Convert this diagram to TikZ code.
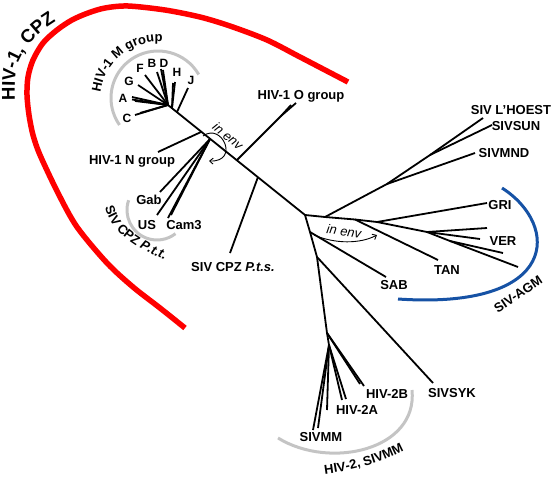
\documentclass[tikz,border=0pt]{standalone}
\usepackage{fontspec}
\setmainfont{Liberation Sans}
\usetikzlibrary{arrows.meta,decorations.text}

\definecolor{cpzred}{RGB}{255,0,0}
\definecolor{agmblue}{RGB}{22,82,165}
\definecolor{cladegray}{RGB}{196,196,196}

\newcommand{\lblfont}{\fontsize{13}{15}\selectfont\bfseries}
\newcommand{\bigfont}{\fontsize{18.5}{20}\selectfont\bfseries}
\newcommand{\mgrpfont}{\fontsize{13}{15}\selectfont\bfseries}

\begin{document}
\begin{tikzpicture}[x=1pt,y=-1pt,
    branch/.style={line width=1.8pt},
    lbl/.style={font=\lblfont, inner sep=0pt, text height=9.3pt, text depth=0pt},
    tiplbl/.style={font=\fontsize{12}{14}\selectfont\bfseries, inner sep=0pt, text height=8.6pt, text depth=0pt},
    envlbl/.style={font=\fontsize{13}{15}\selectfont\itshape, inner sep=0pt},
    clade/.style={cladegray, line width=3pt},
    envarrow/.style={line width=0.9pt, -{Straight Barb[length=3.5pt,width=6pt]}}]

    \useasboundingbox (0,0) rectangle (552,479);

    % --- Junctions of the tree ---
    \coordinate (M_root) at (168,105);
    \coordinate (H_jct) at (172,108);
    \coordinate (J_jct) at (177,112);
    \coordinate (N_jct) at (201,132);
    \coordinate (Ptt_jct) at (210,139);
    \coordinate (O_jct) at (237,160);
    \coordinate (O_split) at (281,116);
    \coordinate (Pts_jct) at (258,177);
    \coordinate (Root) at (305,215);
    \coordinate (L_jct) at (325,217);
    \coordinate (Mnd_jct) at (387,184);
    \coordinate (Sun_jct) at (430,155);
    \coordinate (Tan_jct) at (355,219.5);
    \coordinate (Gri_jct) at (377,222);
    \coordinate (Ver_jct) at (427,232);
    \coordinate (Ver_sub) at (450,241);
    \coordinate (Sab_jct) at (310,232);
    \coordinate (Syk_jct) at (317,257);
    \coordinate (H2_jct) at (327,333);
    \coordinate (H2_sub) at (329,345);

    % --- Tips ---
    % HIV-1 M subtypes
    \coordinate (C_end1) at (135,115);
    \coordinate (C_end2) at (140,113);
    \coordinate (A_end1) at (132,97);
    \coordinate (A_end2) at (132,99.5);
    \coordinate (A_end3) at (135,101);
    \coordinate (G_end) at (138,85);
    \coordinate (F_end) at (145,75);
    \coordinate (B_end) at (157,72);
    \coordinate (D_end1) at (161,69);
    \coordinate (D_end2) at (163,70);
    \coordinate (H_end1) at (175,82);
    \coordinate (H_end2) at (173,83);
    \coordinate (J_end) at (188,88);
    % HIV-1 N, O and SIV CPZ
    \coordinate (N_end) at (158,152);
    \coordinate (O_end1) at (291,105);
    \coordinate (O_end2) at (296,103);
    \coordinate (Gab_end) at (160,192);
    \coordinate (US_end) at (157,215);
    \coordinate (Cam_end1) at (168,218);
    \coordinate (Cam_end2) at (171,215);
    \coordinate (Pts_end) at (230,253);
    % other SIVs
    \coordinate (Hoest_end) at (483,118);
    \coordinate (Sun_end) at (492,125);
    \coordinate (Mnd_end) at (475,153);
    \coordinate (Gri_end) at (487,203);
    \coordinate (Ver_end1) at (487,228);
    \coordinate (Ver_end2) at (480,239);
    \coordinate (Ver_end3) at (503,253);
    \coordinate (Ver_end4) at (518,267);
    \coordinate (Tan_end) at (438,260);
    \coordinate (Sab_end) at (386,277);
    \coordinate (Syk_end) at (433,383);
    % HIV-2 and SIVMM
    \coordinate (H2B_end1) at (360,384);
    \coordinate (H2B_end2) at (364,386);
    \coordinate (H2A_end1) at (342,400);
    \coordinate (H2A_end2) at (346,399);
    \coordinate (MM_end1) at (327,410);
    \coordinate (MM_end2) at (318,428);
    \coordinate (MM_end3) at (313,430);

    % --- Group outlines ---
    % HIV-1, CPZ (red)
    \draw[cpzred, line width=5.5pt] plot[smooth] coordinates {(348,82) (300,57) (267,40) (230,26) (200,17) (165,10) (128,6) (105,8) (88,13) (72,20) (57,30) (43,43) (33,60) (28,77) (27,95) (29,115) (33,135) (40,155) (58,193) (77,227) (107,263) (133,287) (160,308) (185,328)};
    % SIV-AGM (blue)
    \draw[agmblue, line width=3pt] (502,188) .. controls (560,225) and (560,310) .. (398,299);
    % grey clades
    \draw[clade] (158,98) ++(-30:47) arc[start angle=-30, end angle=-215, radius=47];
    \draw[clade] (157,210) ++(199:30) arc[start angle=199, end angle=52, radius=30];
    \draw[clade] (412,390) .. controls (418,450) and (330,470) .. (278,438);

    % --- Backbone ---
    \draw[branch] (M_root) -- (Root);
    \draw[branch] (Root) -- (L_jct) -- (Tan_jct) -- (Gri_jct) -- (Ver_jct) -- (Ver_sub) -- (Ver_end4);
    \draw[branch] (Root) -- (Sab_jct) -- (Syk_jct) -- (H2_jct) -- (H2_sub);

    % --- HIV-1 M group ---
    \draw[branch] (M_root) -- (C_end1);
    \draw[branch] (M_root) -- (C_end2);
    \draw[branch] (M_root) -- (A_end1);
    \draw[branch] (M_root) -- (A_end2);
    \draw[branch] (M_root) -- (A_end3);
    \draw[branch] (M_root) -- (G_end);
    \draw[branch] (M_root) -- (F_end);
    \draw[branch] (M_root) -- (B_end);
    \draw[branch] (M_root) -- (D_end1);
    \draw[branch] (M_root) -- (D_end2);
    \draw[branch] (H_jct) -- (H_end1);
    \draw[branch] (H_jct) -- (H_end2);
    \draw[branch] (J_jct) -- (J_end);

    % --- HIV-1 N, O and SIV CPZ ---
    \draw[branch] (N_jct) -- (N_end);
    \draw[branch] (O_jct) -- (O_split) -- (O_end1);
    \draw[branch] (O_split) -- (O_end2);
    \draw[branch] (Ptt_jct) -- (Gab_end);
    \draw[branch] (Ptt_jct) -- (US_end);
    \draw[branch] (Ptt_jct) -- (Cam_end1);
    \draw[branch] (Ptt_jct) -- (Cam_end2);
    \draw[branch] (Pts_jct) -- (Pts_end);

    % --- L'Hoest, AGM, SAB, SYK ---
    \draw[branch] (L_jct) -- (Mnd_jct) -- (Mnd_end);
    \draw[branch] (Mnd_jct) -- (Sun_jct) -- (Hoest_end);
    \draw[branch] (Sun_jct) -- (Sun_end);
    \draw[branch] (Tan_jct) -- (Tan_end);
    \draw[branch] (Gri_jct) -- (Gri_end);
    \draw[branch] (Ver_jct) -- (Ver_end1);
    \draw[branch] (Ver_jct) -- (Ver_end2);
    \draw[branch] (Ver_sub) -- (Ver_end3);
    \draw[branch] (Sab_jct) -- (Sab_end);
    \draw[branch] (Syk_jct) -- (Syk_end);

    % --- HIV-2, SIVMM ---
    \draw[branch] (H2_jct) -- (H2B_end1);
    \draw[branch] (H2_jct) -- (H2B_end2);
    \draw[branch] (H2_sub) -- (H2A_end1);
    \draw[branch] (H2_sub) -- (H2A_end2);
    \draw[branch] (H2_sub) -- (MM_end1);
    \draw[branch] (H2_sub) -- (MM_end2);
    \draw[branch] (H2_sub) -- (MM_end3);

    % --- Recombination arrows (in env) ---
    \draw[envarrow] (203,136) .. controls (222,122) and (240,162) .. (209,161);
    \draw[envarrow] (314,235) .. controls (335,244) and (360,244) .. (377,235);
    \node[envlbl, rotate=-40] (env_left) at (228,136) {in env};
    \node[envlbl, rotate=-8] (env_right) at (344,231) {in env};

    % --- Labels along the outlines ---
    \path[decorate, decoration={text along path, text={|\bigfont|HIV-1, CPZ}, text align=left}]
        plot[smooth] coordinates {(15,100) (15,82) (17,66) (23,53) (32,41) (45,29) (62,18) (85,7) (110,1)};
    \path[decorate, decoration={text along path, text={|\mgrpfont|HIV-1 M group}, text align=center}]
        (158,100) ++(-180:58) arc[start angle=-180, end angle=-78, radius=58];
    \path[decorate, decoration={text along path, text={|\lblfont|SIV CPZ |\lblfont\itshape|P.t.t.}, text align=center}]
        (104,202) .. controls (109,234) and (139,250) .. (170,262);
    \path[decorate, decoration={text along path, text={|\lblfont|HIV-2, SIVMM}, text align=center}]
        (316,475) .. controls (350,472) and (385,462) .. (412,446);
    \node[lbl, rotate=34] (agm_lbl) at (518,294) {SIV-AGM};

    % --- Labels for M subtypes ---
    \node[tiplbl] (C_lbl) at (127,118) {C};
    \node[tiplbl] (A_lbl) at (123,98) {A};
    \node[tiplbl] (G_lbl) at (129,81) {G};
    \node[tiplbl] (F_lbl) at (140,68) {F};
    \node[tiplbl] (B_lbl) at (152,63) {B};
    \node[tiplbl] (D_lbl) at (164,63) {D};
    \node[tiplbl] (H_lbl) at (177,72) {H};
    \node[tiplbl] (J_lbl) at (191,80) {J};

    % --- Labels for strains ---
    \node[lbl] (N_lbl) at (132,160) {HIV-1 N group};
    \node[lbl] (O_lbl) at (301,95) {HIV-1 O group};
    \node[lbl] (Gab_lbl) at (149,200) {Gab};
    \node[lbl] (US_lbl) at (147,225) {US};
    \node[lbl] (Cam_lbl) at (184,225) {Cam3};
    \node[lbl] (Pts_lbl) at (233,267) {SIV CPZ \textit{P.t.s.}};
    \node[lbl] (Hoest_lbl) at (511,110) {SIV L’HOEST};
    \node[lbl] (Sun_lbl) at (516,126) {SIVSUN};
    \node[lbl] (Mnd_lbl) at (504,153) {SIVMND};
    \node[lbl] (Gri_lbl) at (500,205) {GRI};
    \node[lbl] (Ver_lbl) at (503,241) {VER};
    \node[lbl] (Tan_lbl) at (447,270) {TAN};
    \node[lbl] (Sab_lbl) at (394,285) {SAB};
    \node[lbl] (Syk_lbl) at (452,393) {SIVSYK};
    \node[lbl] (H2B_lbl) at (387,394) {HIV-2B};
    \node[lbl] (H2A_lbl) at (357,410) {HIV-2A};
    \node[lbl] (MM_lbl) at (321,437) {SIVMM};

\end{tikzpicture}
\end{document}
